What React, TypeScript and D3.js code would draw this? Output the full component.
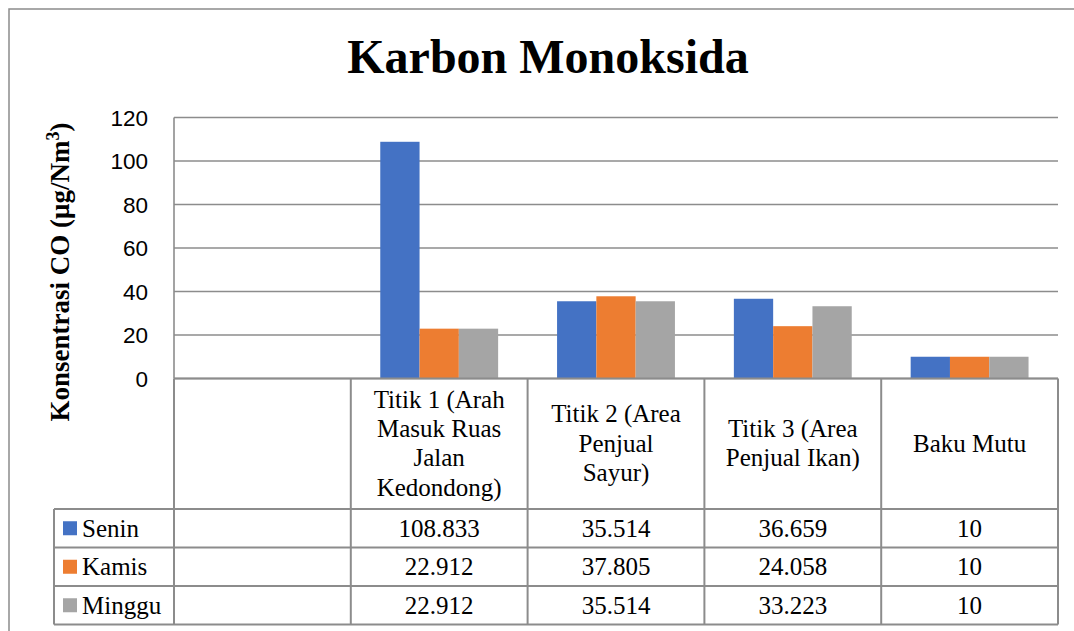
import React from "react";
import * as d3 from "d3";

// chart values
const categories = ["", "Titik 1", "Titik 2", "Titik 3", "Baku Mutu"];
const categoryLines = [
  [],
  ["Titik 1 (Arah", "Masuk Ruas", "Jalan", "Kedondong)"],
  ["Titik 2 (Area", "Penjual", "Sayur)"],
  ["Titik 3 (Area", "Penjual Ikan)"],
  ["Baku Mutu"],
];
const seriesNames = ["Senin", "Kamis", "Minggu"];
const senin = [null, 108.833, 35.514, 36.659, 10];
const kamis = [null, 22.912, 37.805, 24.058, 10];
const minggu = [null, 22.912, 35.514, 33.223, 10];
const yTicks = [0, 20, 40, 60, 80, 100, 120];
const colors = ["#4472C4", "#ED7D31", "#A5A5A5"];

const W = 1074;
const H = 631;
const plot = { left: 174, right: 1058, top: 117.5, bottom: 378.5 };
const table = { legendLeft: 54, headerBottom: 509, rowH: 38.5 };
const lineColor = "#8c8c8c";
const serif = "'Liberation Serif', 'Times New Roman', serif";
const sans = "'Liberation Sans', Arial, sans-serif";

export default function App() {
  const values = [senin, kamis, minggu];

  const x0 = d3.scaleBand<string>().domain(categories).range([plot.left, plot.right]).padding(0);
  const x1 = d3
    .scaleBand<string>()
    .domain(seriesNames)
    .range([0, x0.bandwidth()])
    .paddingInner(0)
    .paddingOuter(0.75);
  const y = d3.scaleLinear().domain([0, 120]).range([plot.bottom, plot.top]);

  const colEdges = categories.map((c) => x0(c) as number).concat([plot.right]);
  const rowTops = seriesNames.map((_, i) => table.headerBottom + i * table.rowH);
  const tableBottom = table.headerBottom + seriesNames.length * table.rowH;
  const headerMid = (plot.bottom + table.headerBottom) / 2;
  const linePitch = 29.3;

  return (
    <svg
      width={W}
      height={H}
      style={{ position: "absolute", left: 0, top: 0, background: "#fff" }}
    >
      {/* outer chart border */}
      <rect x={9} y={9} width={W + 20} height={H + 20} fill="none" stroke={lineColor} strokeWidth={1.5} />

      {/* title */}
      <text x={548} y={73} textAnchor="middle" style={{ fontFamily: serif }} fontWeight="bold" fontSize={48}>
        Karbon Monoksida
      </text>

      {/* gridlines */}
      {yTicks.map((t) => (
        <line key={t} x1={plot.left} x2={plot.right} y1={y(t)} y2={y(t)} stroke={lineColor} strokeWidth={1.6} />
      ))}
      <line x1={plot.left} x2={plot.left} y1={plot.top} y2={plot.bottom} stroke={lineColor} strokeWidth={1.6} />

      {/* y tick labels */}
      {yTicks.map((t) => (
        <text key={t} x={148} y={y(t) + 8} textAnchor="end" style={{ fontFamily: sans }} fontSize={22.5} fill="#000">
          {t}
        </text>
      ))}

      {/* y axis title */}
      <text
        transform={`translate(69, 272) rotate(-90)`}
        textAnchor="middle"
        style={{ fontFamily: serif }}
        fontWeight="bold"
        fontSize={27}
      >
        Konsentrasi CO (μg/Nm
        <tspan fontSize={18} dy={-10}>3</tspan>
        <tspan dy={10}>)</tspan>
      </text>

      {/* bars */}
      {values.map((vals, si) =>
        categories.map((c, ci) =>
          vals[ci] == null ? null : (
            <rect
              key={`${si}-${ci}`}
              x={(x0(c) as number) + (x1(seriesNames[si]) as number)}
              y={y(vals[ci] as number)}
              width={x1.bandwidth()}
              height={y(0) - y(vals[ci] as number)}
              fill={colors[si]}
            />
          )
        )
      )}

      {/* data table lines */}
      <line x1={plot.left} x2={plot.right} y1={plot.bottom} y2={plot.bottom} stroke={lineColor} strokeWidth={2} />
      {colEdges.map((xe, i) => (
        <line key={i} x1={xe} x2={xe} y1={plot.bottom} y2={tableBottom} stroke={lineColor} strokeWidth={2} />
      ))}
      <line x1={table.legendLeft} x2={table.legendLeft} y1={table.headerBottom} y2={tableBottom} stroke={lineColor} strokeWidth={2} />
      {rowTops.concat([tableBottom]).map((ry, i) => (
        <line key={i} x1={table.legendLeft} x2={plot.right} y1={ry} y2={ry} stroke={lineColor} strokeWidth={2} />
      ))}

      {/* category header labels */}
      {categories.map((c, ci) => {
        const lines = categoryLines[ci];
        const cx = (x0(c) as number) + x0.bandwidth() / 2;
        const first = headerMid - ((lines.length - 1) / 2) * linePitch + 8;
        return lines.map((ln, li) => (
          <text key={`${ci}-${li}`} x={cx} y={first + li * linePitch} textAnchor="middle" style={{ fontFamily: serif }} fontSize={25}>
            {ln}
          </text>
        ));
      })}

      {/* legend keys and values */}
      {seriesNames.map((s, si) => {
        const mid = rowTops[si] + table.rowH / 2;
        return (
          <g key={s}>
            <rect x={63} y={mid - 7} width={14} height={14} fill={colors[si]} />
            <text x={82} y={mid + 8.5} style={{ fontFamily: serif }} fontSize={25}>
              {s}
            </text>
            {categories.map((c, ci) =>
              values[si][ci] == null ? null : (
                <text
                  key={ci}
                  x={(x0(c) as number) + x0.bandwidth() / 2}
                  y={mid + 8.5}
                  textAnchor="middle"
                  style={{ fontFamily: serif }}
                  fontSize={25}
                >
                  {String(values[si][ci])}
                </text>
              )
            )}
          </g>
        );
      })}
    </svg>
  );
}
